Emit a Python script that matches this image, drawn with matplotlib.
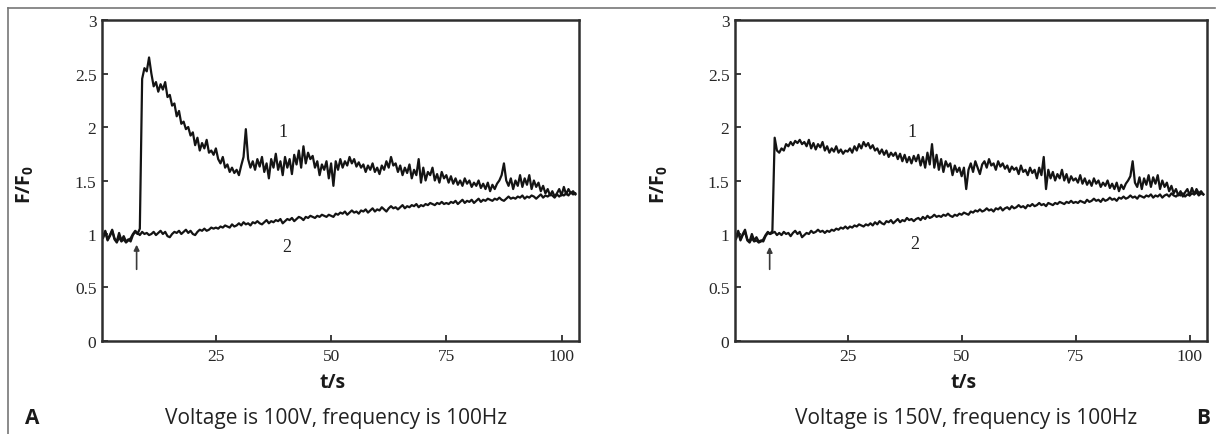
import numpy as np
import matplotlib
matplotlib.use('Agg')
import matplotlib.pyplot as plt
from matplotlib.lines import Line2D

plt.rcParams['mathtext.fontset'] = 'custom'
plt.rcParams['mathtext.rm'] = 'Open Sans'
plt.rcParams['mathtext.bf'] = 'Open Sans:bold'

# sampling step of the traces (s)
t_step = 0.5

# panel A, 100 V: curve 1 (stimulated) and curve 2 (control)
a_curve1 = [
    1.00, 0.97, 1.03, 0.95, 0.99, 1.04, 0.96, 0.93, 1.01, 0.94,
    0.98, 0.93, 0.95, 0.93, 0.99, 1.02, 1.00, 1.05, 2.45, 2.55,
    2.52, 2.65, 2.50, 2.38, 2.42, 2.33, 2.40, 2.35, 2.42, 2.28,
    2.30, 2.20, 2.22, 2.10, 2.15, 2.03, 2.05, 1.98, 2.00, 1.92,
    1.95, 1.83, 1.90, 1.78, 1.85, 1.80, 1.88, 1.76, 1.78, 1.74,
    1.80, 1.70, 1.66, 1.72, 1.62, 1.65, 1.58, 1.62, 1.57, 1.60,
    1.55, 1.64, 1.72, 1.98, 1.70, 1.62, 1.68, 1.60, 1.70, 1.63,
    1.72, 1.58, 1.66, 1.52, 1.70, 1.62, 1.75, 1.60, 1.68, 1.55,
    1.72, 1.62, 1.70, 1.56, 1.74, 1.65, 1.78, 1.62, 1.82, 1.66,
    1.76, 1.70, 1.73, 1.62, 1.68, 1.55, 1.65, 1.60, 1.68, 1.52,
    1.66, 1.45, 1.68, 1.60, 1.70, 1.62, 1.68, 1.64, 1.72, 1.66,
    1.70, 1.63, 1.67, 1.62, 1.65, 1.58, 1.64, 1.60, 1.66, 1.58,
    1.62, 1.56, 1.64, 1.60, 1.68, 1.62, 1.72, 1.64, 1.66, 1.58,
    1.64, 1.55, 1.62, 1.57, 1.65, 1.52, 1.60, 1.55, 1.70, 1.48,
    1.62, 1.50, 1.58, 1.55, 1.62, 1.50, 1.56, 1.48, 1.58, 1.52,
    1.55, 1.48, 1.54, 1.47, 1.52, 1.46, 1.50, 1.45, 1.52, 1.47,
    1.50, 1.44, 1.48, 1.45, 1.50, 1.43, 1.47, 1.42, 1.48, 1.40,
    1.46, 1.42, 1.47, 1.50, 1.55, 1.66, 1.50, 1.45, 1.52, 1.42,
    1.50, 1.45, 1.55, 1.44, 1.52, 1.46, 1.55, 1.42, 1.50, 1.44,
    1.48, 1.40, 1.45, 1.38, 1.42, 1.36, 1.40, 1.35, 1.38, 1.42,
    1.36, 1.44, 1.37, 1.42, 1.38, 1.40, 1.37,
]
a_curve2 = [
    1.00, 0.96, 1.02, 0.94, 0.98, 1.03, 0.95, 0.92, 0.97, 0.93,
    0.95, 0.92, 0.94, 0.96, 1.00, 1.03, 1.01, 0.99, 1.02, 1.00,
    1.01, 0.99, 1.00, 1.02, 0.99, 1.01, 1.03, 1.00, 1.02, 0.98,
    0.97, 1.00, 1.02, 1.01, 1.03, 1.00, 1.02, 1.04, 1.01, 1.03,
    1.00, 0.99, 1.02, 1.04, 1.03, 1.05, 1.03, 1.04, 1.06, 1.05,
    1.06, 1.05, 1.07, 1.06, 1.08, 1.07, 1.06, 1.09, 1.07, 1.08,
    1.10, 1.08, 1.11, 1.09, 1.10, 1.08, 1.11, 1.10, 1.12, 1.10,
    1.09, 1.11, 1.13, 1.10, 1.12, 1.11, 1.13, 1.12, 1.14, 1.10,
    1.12, 1.14, 1.13, 1.15, 1.12, 1.14, 1.16, 1.15, 1.13, 1.16,
    1.15, 1.17, 1.16, 1.15, 1.17, 1.16, 1.18, 1.17, 1.16, 1.18,
    1.17, 1.16, 1.19, 1.18, 1.20, 1.19, 1.21, 1.18, 1.20, 1.22,
    1.20, 1.21, 1.19, 1.22, 1.21, 1.23, 1.20, 1.22, 1.24, 1.21,
    1.23, 1.22, 1.25, 1.23, 1.21, 1.24, 1.26, 1.24, 1.25, 1.23,
    1.25, 1.27, 1.24, 1.26, 1.25, 1.27, 1.26, 1.28, 1.25, 1.27,
    1.26, 1.28, 1.27, 1.29, 1.28, 1.27, 1.29, 1.28, 1.30, 1.28,
    1.29, 1.28, 1.30, 1.29, 1.31, 1.28, 1.30, 1.32, 1.29, 1.31,
    1.30, 1.32, 1.29, 1.31, 1.33, 1.30, 1.32, 1.31, 1.33, 1.32,
    1.31, 1.33, 1.32, 1.34, 1.32, 1.31, 1.33, 1.35, 1.33, 1.34,
    1.33, 1.35, 1.34, 1.36, 1.33, 1.35, 1.34, 1.36, 1.35, 1.33,
    1.35, 1.37, 1.34, 1.36, 1.35, 1.37, 1.36, 1.34, 1.37, 1.35,
    1.37, 1.36, 1.38, 1.36, 1.39, 1.37, 1.38,
]

# panel B, 150 V
b_curve1 = [
    1.00, 0.96, 1.03, 0.95, 1.00, 1.04, 0.95, 0.93, 1.00, 0.94,
    0.97, 0.93, 0.94, 0.93, 0.98, 1.01, 1.00, 1.03, 1.90, 1.78,
    1.76, 1.80, 1.78, 1.84, 1.82, 1.86, 1.83, 1.87, 1.85, 1.88,
    1.84, 1.86, 1.82, 1.88, 1.80, 1.85, 1.79, 1.84, 1.81, 1.86,
    1.78, 1.82, 1.76, 1.80, 1.77, 1.82, 1.76, 1.79, 1.75, 1.78,
    1.77, 1.80, 1.76, 1.82, 1.78, 1.84, 1.80, 1.86, 1.82, 1.85,
    1.80, 1.83, 1.78, 1.80, 1.75, 1.79, 1.74, 1.78, 1.72, 1.76,
    1.73, 1.76, 1.70, 1.75, 1.68, 1.74, 1.67, 1.72, 1.66, 1.73,
    1.68, 1.74, 1.64, 1.72, 1.62, 1.76, 1.65, 1.84, 1.62, 1.74,
    1.60, 1.70, 1.58, 1.68, 1.63, 1.66, 1.55, 1.64, 1.58, 1.62,
    1.54, 1.62, 1.42, 1.60, 1.66, 1.58, 1.68, 1.62, 1.56, 1.65,
    1.68, 1.62, 1.70, 1.64, 1.66, 1.60, 1.68, 1.63, 1.66, 1.61,
    1.64, 1.58, 1.63, 1.60, 1.62, 1.56, 1.64, 1.58, 1.60, 1.55,
    1.62, 1.57, 1.60, 1.52, 1.62, 1.55, 1.72, 1.42, 1.60, 1.52,
    1.58, 1.50, 1.56, 1.52, 1.60, 1.50, 1.56, 1.48, 1.54, 1.50,
    1.52, 1.48, 1.55, 1.47, 1.52, 1.46, 1.50, 1.45, 1.52, 1.47,
    1.50, 1.44, 1.48, 1.45, 1.50, 1.43, 1.47, 1.42, 1.48, 1.40,
    1.46, 1.42, 1.47, 1.50, 1.54, 1.68, 1.48, 1.44, 1.53, 1.42,
    1.52, 1.46, 1.55, 1.44, 1.53, 1.47, 1.55, 1.42, 1.50, 1.44,
    1.48, 1.40, 1.45, 1.38, 1.42, 1.36, 1.40, 1.35, 1.39, 1.42,
    1.36, 1.43, 1.37, 1.42, 1.38, 1.40, 1.37,
]
b_curve2 = [
    1.00, 0.95, 1.02, 0.94, 0.99, 1.02, 0.94, 0.92, 0.96, 0.93,
    0.94, 0.92, 0.93, 0.95, 0.99, 1.02, 1.00, 1.01, 1.02, 0.99,
    1.01, 0.99, 1.02, 1.00, 1.01, 0.98, 1.01, 1.03, 1.00, 1.02,
    0.97, 0.99, 1.01, 1.00, 1.03, 1.01, 1.02, 1.04, 1.02, 1.03,
    1.01, 1.03, 1.02, 1.04, 1.03, 1.05, 1.04, 1.06, 1.05, 1.07,
    1.05, 1.07, 1.06, 1.08, 1.07, 1.09, 1.08, 1.07, 1.09, 1.08,
    1.10, 1.08, 1.11, 1.09, 1.12, 1.10, 1.09, 1.12, 1.11, 1.13,
    1.10, 1.12, 1.14, 1.11, 1.13, 1.12, 1.15, 1.13, 1.14, 1.12,
    1.14, 1.15, 1.13, 1.16, 1.14, 1.17, 1.15, 1.16, 1.18, 1.16,
    1.17, 1.16, 1.18, 1.17, 1.19, 1.17, 1.16, 1.18, 1.17, 1.19,
    1.18, 1.20, 1.19, 1.18, 1.21, 1.20, 1.22, 1.21, 1.23, 1.21,
    1.22, 1.24, 1.22, 1.23, 1.21, 1.24, 1.23, 1.25, 1.22, 1.24,
    1.25, 1.23, 1.26, 1.24, 1.25, 1.27, 1.25, 1.26, 1.24, 1.27,
    1.26, 1.28, 1.26, 1.27, 1.29, 1.27, 1.28, 1.26, 1.29, 1.28,
    1.27, 1.29, 1.28, 1.30, 1.29, 1.28, 1.30, 1.29, 1.31, 1.29,
    1.30, 1.29, 1.31, 1.30, 1.29, 1.32, 1.30, 1.31, 1.33, 1.31,
    1.32, 1.30, 1.33, 1.31, 1.32, 1.34, 1.32, 1.33, 1.31, 1.34,
    1.33, 1.35, 1.33, 1.34, 1.36, 1.34, 1.35, 1.33, 1.36, 1.35,
    1.34, 1.36, 1.35, 1.37, 1.34, 1.36, 1.35, 1.37, 1.34, 1.36,
    1.37, 1.35, 1.38, 1.36, 1.35, 1.37, 1.36, 1.38, 1.35, 1.37,
    1.36, 1.38, 1.37, 1.39, 1.36, 1.38, 1.37,
]

y_ticks = [0, 0.5, 1, 1.5, 2, 2.5, 3]
y_ticklabels = ['0', '0.5', '1', '1.5', '2', '2.5', '3']
x_ticks = [25, 50, 75, 100]

panels = [
    ('A', a_curve1, a_curve2, 'Voltage is 100V, frequency is 100Hz',
     [0.0833, 0.2138, 0.3894, 0.7379], (7.8, 0.67, 0.90), (39.6, 1.96), (40.4, 0.88)),
    ('B', b_curve1, b_curve2, 'Voltage is 150V, frequency is 100Hz',
     [0.6000, 0.2138, 0.3853, 0.7379], (7.9, 0.67, 0.88), (39.0, 1.96), (39.8, 0.91)),
]

fig = plt.figure(figsize=(12.25, 4.35), dpi=100)

ink = '#141414'
axis_col = '#2e2e2e'

for tag, c1, c2, caption, rect, arrow, lab1, lab2 in panels:
    ax = fig.add_axes(rect)
    t1 = np.arange(len(c1)) * t_step
    t2 = np.arange(len(c2)) * t_step
    ax.plot(t2, c2, color=ink, lw=1.6)
    ax.plot(t1, c1, color=ink, lw=1.6)

    ax.set_xlim(0.3, 103.8)
    ax.set_ylim(0, 3)
    ax.set_xticks(x_ticks)
    ax.set_yticks(y_ticks)
    ax.set_yticklabels(y_ticklabels)
    for s in ax.spines.values():
        s.set_linewidth(1.8)
        s.set_color(axis_col)
    ax.tick_params(direction='in', length=4, width=1.3, color=axis_col,
                   labelsize=12.5, labelcolor='#262626')
    ax.tick_params(axis='y', pad=4)
    ax.tick_params(axis='x', pad=5)
    for lbl in ax.get_xticklabels() + ax.get_yticklabels():
        lbl.set_fontfamily('Liberation Serif')

    # stimulus arrow
    ax.annotate('', xy=(arrow[0], arrow[2]), xytext=(arrow[0], arrow[1]),
                arrowprops=dict(arrowstyle='-|>', color='#3a3a3a', lw=1.2,
                                mutation_scale=8, shrinkA=0, shrinkB=0))
    ax.text(lab1[0], lab1[1], '1', family='Liberation Serif', fontsize=13,
            color='#222222', ha='center', va='center')
    ax.text(lab2[0], lab2[1], '2', family='Liberation Serif', fontsize=13,
            color='#222222', ha='center', va='center')

    ax.set_ylabel(r'$\mathbf{F/F_0}$', fontsize=14, color='#1a1a1a')
    ax.yaxis.set_label_coords(-0.138, 0.49)
    ax.set_xlabel('t/s', family='Open Sans', fontweight='bold', fontsize=14,
                  color='#1a1a1a')
    ax.xaxis.set_label_coords(0.484, -0.128)
    ax.xaxis.label.set_va('center')

    cx = rect[0] + rect[2] * 0.49
    fig.text(cx, 0.039, caption, family='Open Sans', fontsize=15,
             color='#222222', ha='center', va='center')

fig.text(25 / 1225, 0.039, 'A', family='Open Sans', fontweight='bold',
         fontsize=15, color='#1a1a1a', ha='left', va='center')
fig.text(1203 / 1225, 0.039, 'B', family='Open Sans', fontweight='bold',
         fontsize=15, color='#1a1a1a', ha='center', va='center')

# outer frame: top and left edge only
frame_col = '#777777'
fig.add_artist(Line2D([8 / 1225, 1215 / 1225], [426 / 435, 426 / 435],
                      transform=fig.transFigure, color=frame_col, lw=1.2))
fig.add_artist(Line2D([8 / 1225, 8 / 1225], [0, 426 / 435],
                      transform=fig.transFigure, color=frame_col, lw=1.2))

fig.savefig('out.png', dpi=100)
